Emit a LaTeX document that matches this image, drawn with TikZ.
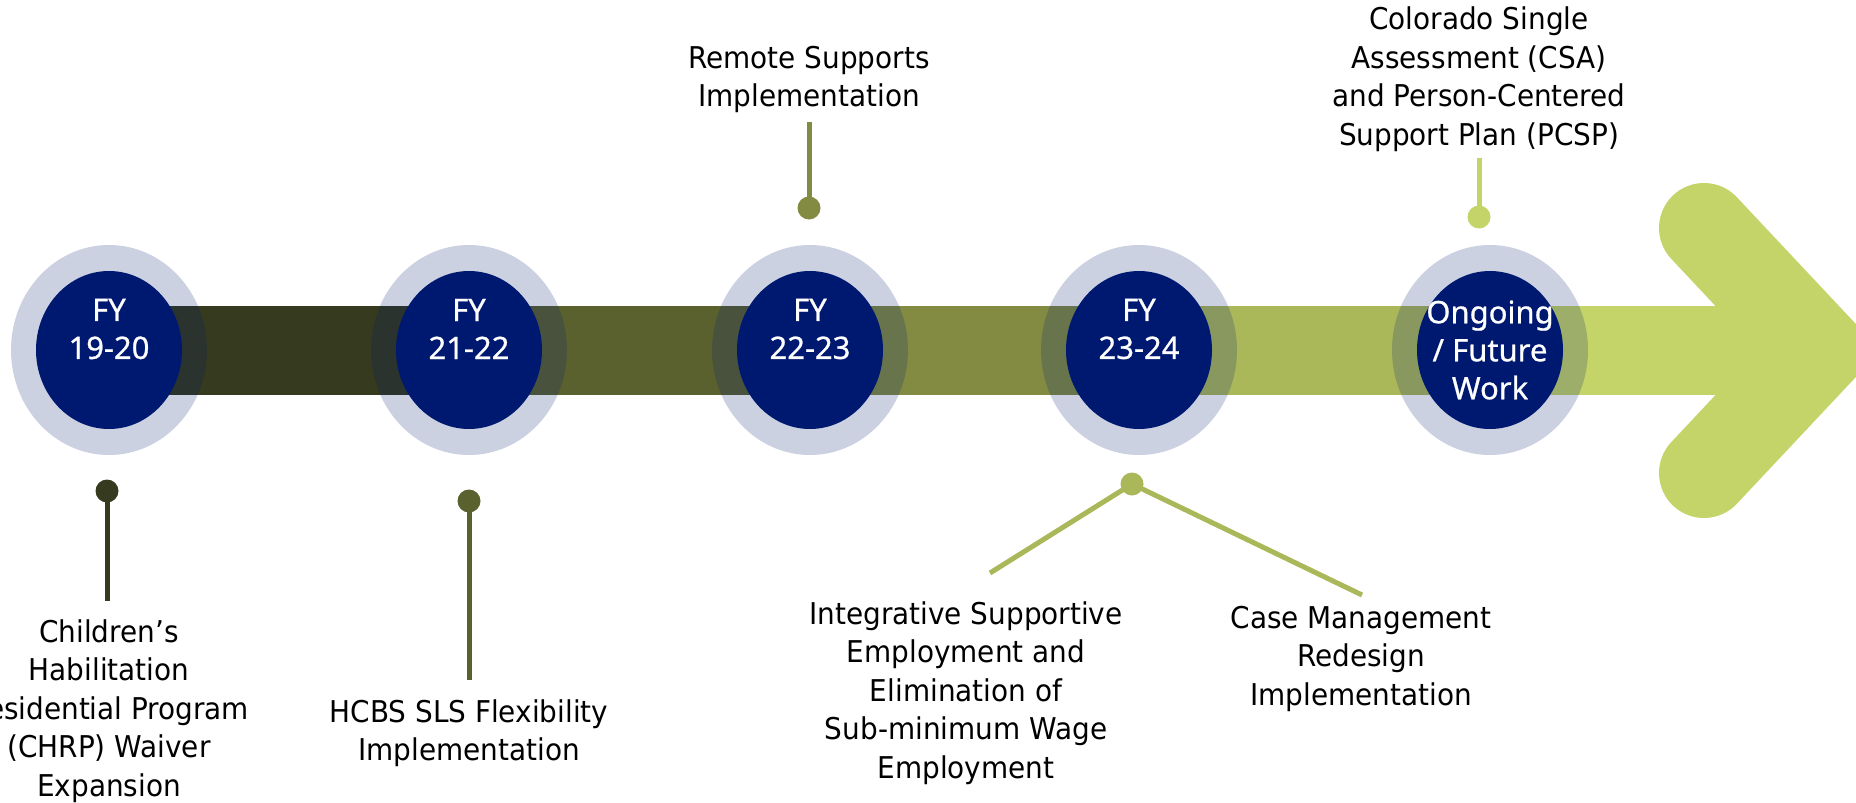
\documentclass[tikz,border=0pt]{standalone}
\usepackage{fontspec}
\setmainfont{DejaVu Sans}[FakeStretch=0.93]
\newfontfamily\yearfont{Noto Sans}[FakeBold=0.7]
\usetikzlibrary{shapes.geometric}
\definecolor{navy}{HTML}{001970}
\definecolor{segA}{HTML}{363A1E}
\definecolor{segB}{HTML}{5A612F}
\definecolor{segC}{HTML}{838B43}
\definecolor{segD}{HTML}{AAB85A}
\definecolor{segE}{HTML}{C4D468}
\tikzset{
  ring/.style={ellipse, fill=navy, fill opacity=0.2, minimum width=196pt, minimum height=210pt, inner sep=0pt},
  yearball/.style={ellipse, fill=navy, minimum width=146pt, minimum height=158pt, inner sep=0pt},
  yeartext/.style={text=white, font=\yearfont\fontsize{31}{38}\selectfont, align=center, inner sep=0pt},
  knob/.style={circle, fill=#1, minimum size=23pt, inner sep=0pt},
  stem/.style={line width=5pt},
  note/.style={font=\fontsize{30}{38.5}\selectfont, align=center, inner sep=0pt, anchor=north},
}
\begin{document}
\begin{tikzpicture}[x=1pt,y=-1pt]
  \useasboundingbox (0,0) rectangle (1856,803);
  \fill[white] (0,0) rectangle (1856,803);
  % timeline band
  \fill[segA] (109,306) rectangle (469,395);
  \fill[segB] (469,306) rectangle (810,395);
  \fill[segC] (810,306) rectangle (1139,395);
  \fill[segD] (1139,306) rectangle (1490,395);
  \fill[segE] (1490,306) rectangle (1760,395);
  \draw[segE, line width=90pt, line cap=round, line join=miter] (1704,228) -- (1819,350.5) -- (1704,473);
  % year circles
  \foreach \cx/\n in {109/1,469/2,810/3,1139/4,1490/5}{
    \node[ring] (ring\n) at (\cx,350) {};
    \node[yearball] (ball\n) at (\cx,350) {};
  }
  \node[yeartext] (fy1) at (109,329) {FY\\19-20};
  \node[yeartext] (fy2) at (469,329) {FY\\21-22};
  \node[yeartext] (fy3) at (810,329) {FY\\22-23};
  \node[yeartext] (fy4) at (1139,329) {FY\\23-24};
  \node[yeartext] (fy5) at (1490,350) {Ongoing\\/ Future\\Work};
  % pins below
  \coordinate (end1) at (107,601);
  \node[knob=segA] (dot1) at (107,491) {};
  \draw[stem, segA] (dot1.center) -- (end1);
  \node[note] (txt1) at (109,619) {Children’s\\Habilitation\\Residential Program\\(CHRP) Waiver\\Expansion};
  \coordinate (end2) at (469,680);
  \node[knob=segB] (dot2) at (469,501) {};
  \draw[stem, segB] (dot2.center) -- (end2);
  \node[note] (txt2) at (469,699) {HCBS SLS Flexibility\\Implementation};
  \coordinate (end4a) at (990,573);
  \coordinate (end4b) at (1362,595);
  \node[knob=segD] (dot4) at (1132,484) {};
  \draw[stem, segD] (end4a) -- (dot4.center) -- (end4b);
  \node[note] (txt4a) at (966,601) {Integrative Supportive\\Employment and\\Elimination of\\Sub-minimum Wage\\Employment};
  \node[note] (txt4b) at (1361,606) {Case Management\\Redesign\\Implementation};
  % pins above
  \node[note] (txt3) at (809,46) {Remote Supports\\Implementation};
  \coordinate (end3) at (809,122);
  \node[knob=segC] (dot3) at (809,208) {};
  \draw[stem, segC] (end3) -- (dot3.center);
  \node[note] (txt5) at (1479,7) {Colorado Single\\Assessment (CSA)\\and Person-Centered\\Support Plan (PCSP)};
  \coordinate (end5) at (1479,158);
  \node[knob=segE] (dot5) at (1479,217) {};
  \draw[stem, segE] (end5) -- (dot5.center);
\end{tikzpicture}
\end{document}
